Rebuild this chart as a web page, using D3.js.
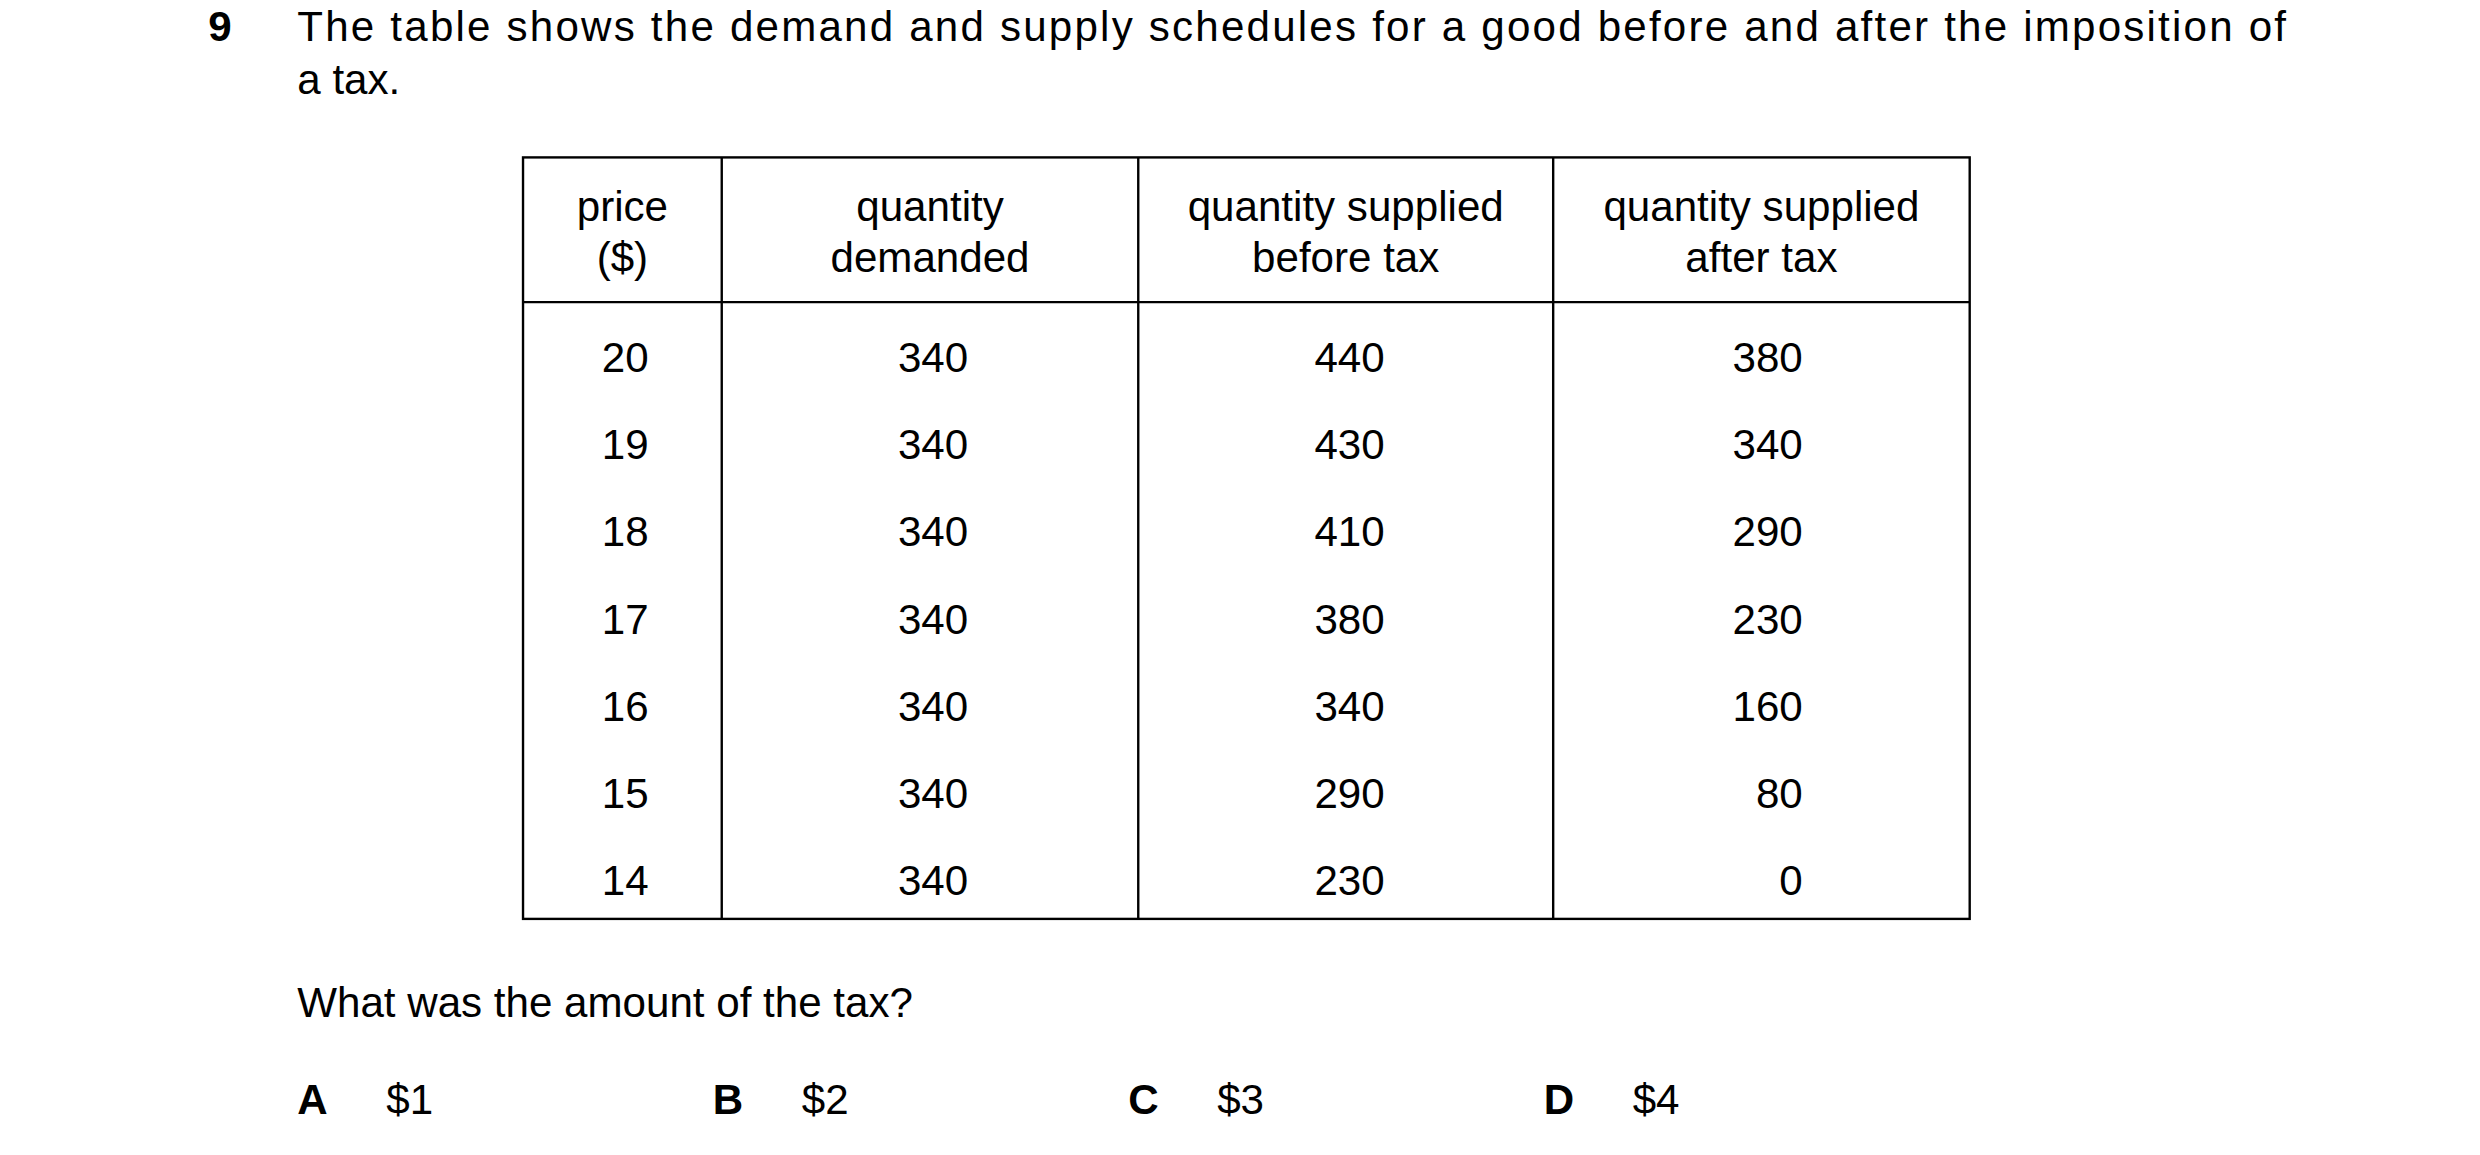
<!DOCTYPE html>
<html><head><meta charset="utf-8">
<script src="https://d3js.org/d3.v7.min.js"></script>
<style>body{margin:0;background:#fff}svg{display:block}</style></head>
<body><script>
const headers=[["price","($)"],["quantity","demanded"],["quantity supplied","before tax"],["quantity supplied","after tax"]];
const prices=[20,19,18,17,16,15,14];
const demanded=[340,340,340,340,340,340,340];
const suppliedBefore=[440,430,410,380,340,290,230];
const suppliedAfter=[380,340,290,230,160,80,0];
const options=[["A","$1"],["B","$2"],["C","$3"],["D","$4"]];

const W=1560,H=726.5;
const svg=d3.select("body").append("svg").attr("width",2480).attr("height",1155).attr("viewBox",`0 0 ${W} ${H}`);
const font="'Liberation Sans',Arial,sans-serif";
const g=svg.append("g").attr("font-family",font).attr("font-size",26.5).attr("fill","#000");
g.append("text").attr("x",131).attr("y",26).attr("font-weight","bold").text("9");
g.append("text").attr("x",187).attr("y",26).attr("textLength",1251).text("The table shows the demand and supply schedules for a good before and after the imposition of");
g.append("text").attr("x",187).attr("y",59).text("a tax.");

const colEdges=[329,454,716,977,1239];
const tblTop=99,headBottom=190,tblBottom=578;
const y=d3.scaleBand().domain(d3.range(prices.length)).range([headBottom+7,tblBottom+3]);
const t=svg.append("g").attr("stroke","#000").attr("stroke-width",1.5).attr("fill","none");
t.append("rect").attr("x",colEdges[0]).attr("y",tblTop).attr("width",colEdges[4]-colEdges[0]).attr("height",tblBottom-tblTop);
t.append("line").attr("x1",colEdges[0]).attr("x2",colEdges[4]).attr("y1",headBottom).attr("y2",headBottom);
colEdges.slice(1,4).forEach(x=>t.append("line").attr("x1",x).attr("x2",x).attr("y1",tblTop).attr("y2",tblBottom));

headers.forEach((h,i)=>{
  const cx=(colEdges[i]+colEdges[i+1])/2;
  h.forEach((s,j)=>g.append("text").attr("x",cx).attr("y",139+j*32).attr("text-anchor","middle").text(s));
});
const cols=[prices,demanded,suppliedBefore,suppliedAfter];
const rightX=[408,609,871,1134];
cols.forEach((c,i)=>c.forEach((v,r)=>g.append("text").attr("x",rightX[i]).attr("y",y(r)+y.bandwidth()/2+9.5).attr("text-anchor","end").text(v)));

g.append("text").attr("x",187).attr("y",640).text("What was the amount of the tax?");
const ox=d3.scalePoint().domain(options.map(o=>o[0])).range([187,971]);
options.forEach(o=>{
  g.append("text").attr("x",ox(o[0])).attr("y",701).attr("font-weight","bold").text(o[0]);
  g.append("text").attr("x",ox(o[0])+56).attr("y",701).text(o[1]);
});
</script></body></html>
